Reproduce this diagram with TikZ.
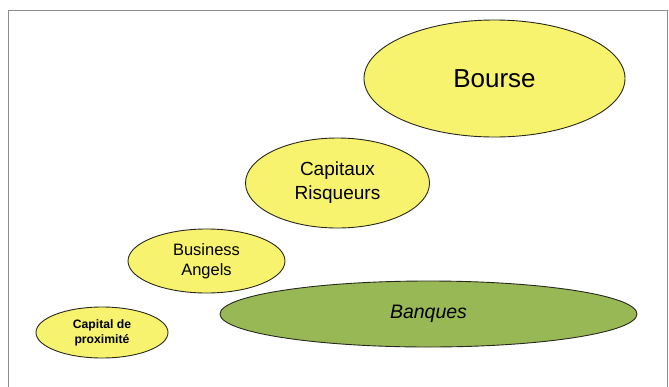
\documentclass[tikz,border=0pt]{standalone}
\usepackage{fontspec}
\setmainfont{Liberation Sans}
\usepackage{tikz}
\usetikzlibrary{shapes.geometric}
\definecolor{paleyellow}{RGB}{248,243,110}
\definecolor{olivegreen}{RGB}{152,184,86}
\definecolor{framegray}{RGB}{140,140,140}
\definecolor{outline}{RGB}{40,40,30}
\tikzset{
  blob/.style={ellipse, draw=outline, line width=0.9pt, fill=paleyellow,
               align=center, inner sep=0pt},
  bankblob/.style={blob, fill=olivegreen}
}

\begin{document}
\begin{tikzpicture}[x=1pt, y=-1pt]
  \useasboundingbox (0,0) rectangle (669,386);
  \draw[framegray, line width=0.8pt] (8,390) -- (8,10) -- (667,10) -- (667,390);
  \node[blob, minimum width=261pt, minimum height=117pt,
        font=\fontsize{26}{28}\selectfont] (bourse) at (494.5,78.5) {Bourse};
  \node[blob, minimum width=184pt, minimum height=90pt,
        font=\fontsize{19}{24}\selectfont] (vc) at (337.5,183) {Capitaux\\Risqueurs};
  \node[blob, minimum width=157pt, minimum height=64pt,
        font=\fontsize{16.5}{20}\selectfont] (ba) at (206.5,261) {Business\\Angels};
  \node[blob, minimum width=132pt, minimum height=51pt,
        font=\fontsize{12.2}{15}\selectfont\bfseries] (prox) at (102,332.5) {Capital de\\proximité};
  \node[bankblob, minimum width=417pt, minimum height=66pt,
        font=\fontsize{19.5}{22}\selectfont\itshape] (banques) at (428.5,314) {Banques};
\end{tikzpicture}
\end{document}
